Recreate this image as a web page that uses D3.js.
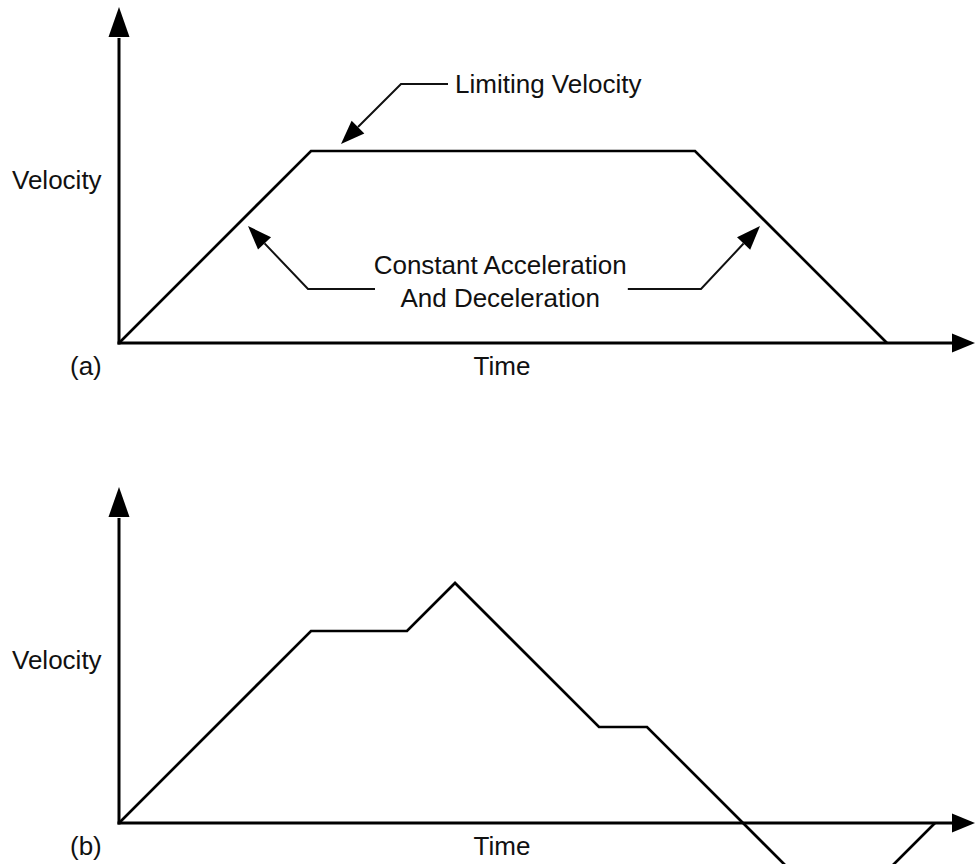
<!DOCTYPE html>
<html>
<head>
<meta charset="utf-8">
<script src="https://cdn.jsdelivr.net/npm/d3@7"></script>
<style>
  html, body { margin: 0; padding: 0; background: #fff; }
  svg { display: block; }
  text { font-family: "Liberation Sans", Arial, sans-serif; fill: #111; }
</style>
</head>
<body>
<svg id="chart" width="975" height="864"></svg>
<script>
// ---- Data (time / velocity units) ----
const panelLabels = ["(a)", "(b)"];
const axisTitleX = "Time";
const axisTitleY = "Velocity";

const timeA = [0, 4, 12, 16];
const velA  = [0, 4, 4, 0];

const timeB = [0, 4, 6, 7, 10, 11, 13, 14, 16, 17];
const velB  = [0, 4, 4, 5, 2, 2, 0, -1, -1, 0];

const timeMax = 17.833;
const velMax = 7;

// annotation leaders (data units), only for panel (a)
const limitLeaderT = [6.854, 5.875, 4.625];
const limitLeaderV = [5.396, 5.396, 4.146];
const limitText = "Limiting Velocity";
const limitTextPos = [7.0, 5.21];

const accLeaderT = [5.333, 3.9375, 2.6875];
const accLeaderV = [1.125, 1.125, 2.4375];
const decLeaderT = [10.6, 12.125, 13.354];
const decLeaderV = [1.125, 1.125, 2.4375];
const accText = ["Constant Acceleration", "And Deceleration"];
const accTextT = 7.94;
const accTextV = [1.4375, 0.75];

// ---- Layout ----
const svg = d3.select("#chart");
const panelOffsets = [0, 480];

function arrowHead(g, tip, from, len, half) {
  const dx = tip[0] - from[0], dy = tip[1] - from[1];
  const d = Math.hypot(dx, dy);
  const ux = dx / d, uy = dy / d;
  const bx = tip[0] - ux * len, by = tip[1] - uy * len;
  const px = -uy, py = ux;
  g.append("path")
    .attr("d", `M${tip[0]},${tip[1]}L${bx + px * half},${by + py * half}L${bx - px * half},${by - py * half}Z`)
    .attr("fill", "#000");
  return [bx, by];
}

panelOffsets.forEach((off, i) => {
  const x = d3.scaleLinear().domain([0, timeMax]).range([119, 975]);
  const y = d3.scaleLinear().domain([0, velMax]).range([343 + off, 7 + off]);
  const g = svg.append("g");

  const line = d3.line().x(d => x(d[0])).y(d => y(d[1]));

  // data line
  const tt = i === 0 ? timeA : timeB;
  const vv = i === 0 ? velA : velB;
  g.append("path")
    .attr("d", line(tt.map((t, k) => [t, vv[k]])))
    .attr("fill", "none")
    .attr("stroke", "#000")
    .attr("stroke-width", 2.7)
    .attr("stroke-linejoin", "miter");

  // axes with arrowheads
  const x0 = x(0), y0 = y(0);
  const yTip = [x0, y(velMax)];
  const yBase = arrowHead(g, yTip, [x0, y0], 30, 10.5);
  g.append("line").attr("x1", x0).attr("y1", y0 + 1.5).attr("x2", x0).attr("y2", yBase[1] + 1)
    .attr("stroke", "#000").attr("stroke-width", 3);
  const xTip = [x(timeMax), y0];
  const xBase = arrowHead(g, xTip, [x0, y0], 23, 9.5);
  g.append("line").attr("x1", x0 - 1.5).attr("y1", y0).attr("x2", xBase[0] + 1).attr("y2", y0)
    .attr("stroke", "#000").attr("stroke-width", 3);

  // labels
  g.append("text").attr("x", 12).attr("y", y0 - 154)
    .attr("font-size", 26).text(axisTitleY);
  g.append("text").attr("x", 502).attr("y", y0 + 32)
    .attr("font-size", 26).attr("text-anchor", "middle").text(axisTitleX);
  g.append("text").attr("x", 70).attr("y", y0 + 32)
    .attr("font-size", 26).text(panelLabels[i]);

  if (i === 0) {
    const drawLeader = (T, V) => {
      const pts = T.map((t, k) => [x(t), y(V[k])]);
      const n = pts.length;
      const base = arrowHead(g, pts[n - 1], pts[n - 2], 24, 9);
      const shaft = pts.slice(0, n - 1).concat([base]);
      g.append("path").attr("d", d3.line()(shaft))
        .attr("fill", "none").attr("stroke", "#111").attr("stroke-width", 2);
    };
    drawLeader(limitLeaderT, limitLeaderV);
    drawLeader(accLeaderT, accLeaderV);
    drawLeader(decLeaderT, decLeaderV);

    g.append("text").attr("x", x(limitTextPos[0])).attr("y", y(limitTextPos[1]))
      .attr("font-size", 26).text(limitText);
    accText.forEach((s, k) => {
      g.append("text").attr("x", x(accTextT)).attr("y", y(accTextV[k]))
        .attr("font-size", 26).attr("text-anchor", "middle").text(s);
    });
  }
});
</script>
</body>
</html>
